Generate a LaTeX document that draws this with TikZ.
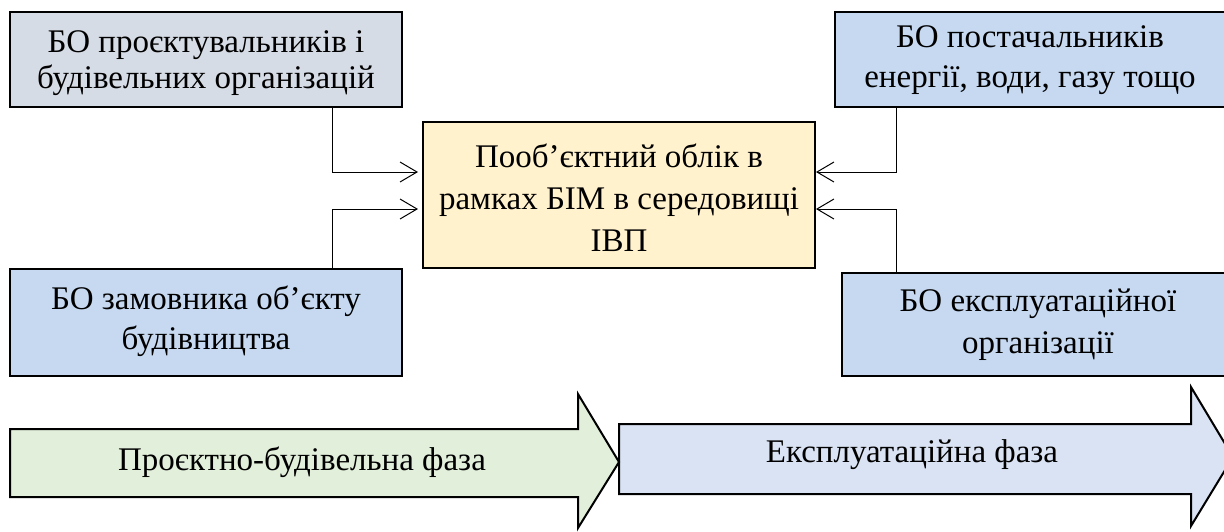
\documentclass[tikz,border=0pt]{standalone}
\usepackage{fontspec}
\setmainfont{Liberation Serif}
\usetikzlibrary{arrows.meta}
\definecolor{boxgrey}{HTML}{D6DCE5}
\definecolor{boxblue}{HTML}{C6D9F1}
\definecolor{boxyellow}{HTML}{FFF2CC}
\definecolor{phasegreen}{HTML}{E2EFDA}
\definecolor{phaseblue}{HTML}{DAE3F3}
\tikzset{
  orgbox/.style={draw=black, line width=2pt, inner sep=0pt, align=center,
    font=\fontsize{33}{36}\selectfont},
  txt/.style={inner sep=0pt, align=center, font=\fontsize{33}{36}\selectfont},
  conn/.style={line width=1pt, -{Straight Barb[length=17pt,width=20pt,line width=1pt]}},
  phase/.style={draw=black, line width=2pt, line join=miter},
}
\begin{document}
\begin{tikzpicture}[x=1pt,y=-1pt]
\useasboundingbox (0,0) rectangle (1224,531);
% boxes
\node[orgbox, fill=boxgrey, minimum width=392pt, minimum height=95pt] (b1) at (206,59.5) {};
\node[txt] (b1t) at (206,63) {БО проєктувальників і\\будівельних організацій};
\node[orgbox, fill=boxblue, minimum width=398pt, minimum height=95pt] (b2) at (1034,59.5) {};
\node[txt, font=\fontsize{33}{40}\selectfont] (b2t) at (1030,60) {БО постачальників\\енергії, води, газу тощо};
\node[orgbox, fill=boxyellow, minimum width=392pt, minimum height=146pt] (c) at (619,195) {};
\node[txt, font=\fontsize{33}{42}\selectfont] (ct) at (619,198)
  {Пооб’єктний облік в\\рамках БІМ в середовищі\\ІВП};
\node[orgbox, fill=boxblue, minimum width=392pt, minimum height=107pt] (b3) at (206,322.5) {};
\node[txt, font=\fontsize{33}{40}\selectfont] (b3t) at (206,321)
  {БО замовника об’єкту\\будівництва};
\node[orgbox, fill=boxblue, minimum width=392pt, minimum height=103pt] (b4) at (1038,324.5) {};
\node[txt, font=\fontsize{33}{42}\selectfont] (b4t) at (1038,325)
  {БО експлуатаційної\\організації};
% junction coordinates
\coordinate (jl) at (332,0);
\coordinate (jr) at (896,0);
% connectors
\draw[conn, shorten >=4pt] (b1.south -| jl) |- ([yshift=23pt]c.west);
\draw[conn, shorten >=4pt] (b3.north -| jl) |- ([yshift=-14pt]c.west);
\draw[conn] (b2.south -| jr) |- ([yshift=23pt]c.east);
\draw[conn] (b4.north -| jr) |- ([yshift=-14pt]c.east);
% phase arrows
\draw[phase, fill=phaseblue] (619,424) -- (1191,424) -- (1191,387) -- (1233,457)
  -- (1191,526) -- (1191,494) -- (619,494) -- cycle;
\draw[phase, fill=phasegreen] (10,429) -- (578,429) -- (578,394) -- (619,462)
  -- (578,528) -- (578,497) -- (10,497) -- cycle;
\node[txt] (p1) at (302,462) {Проєктно-будівельна фаза};
\node[txt] (p2) at (912,455) {Експлуатаційна фаза};
\end{tikzpicture}
\end{document}
